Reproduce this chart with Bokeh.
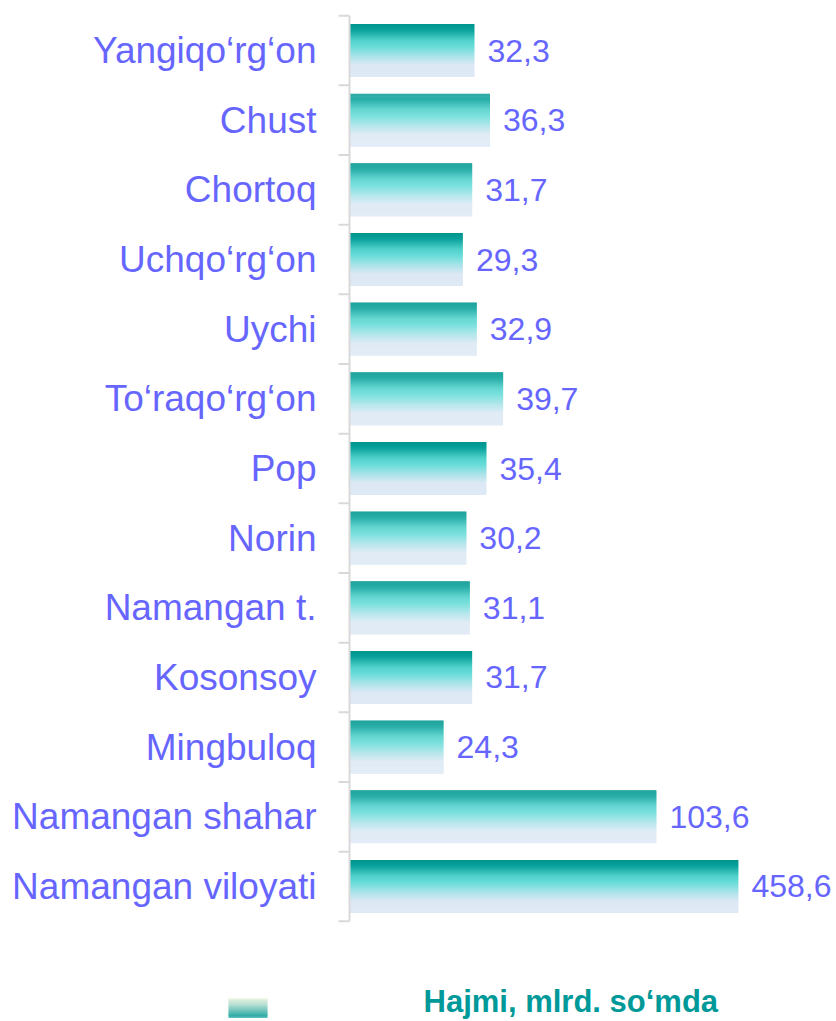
from bokeh.plotting import figure
from bokeh.models import ColumnDataSource, FactorRange, Range1d
from bokeh.transform import dodge
from bokeh.layouts import column
from bokeh.embed import file_html
from bokeh.resources import INLINE
from bokeh.core.properties import value

# ---------------- data ----------------
categories = ["Yangiqo‘rg‘on", "Chust", "Chortoq", "Uchqo‘rg‘on", "Uychi",
              "To‘raqo‘rg‘on", "Pop", "Norin", "Namangan t.", "Kosonsoy",
              "Mingbuloq", "Namangan shahar", "Namangan viloyati"]
values = [32.3, 36.3, 31.7, 29.3, 32.9, 39.7, 35.4, 30.2, 31.1, 31.7, 24.3, 103.6, 458.6]
# bar lengths as drawn in the source picture (the two totals are shown compressed)
bar_lengths = [32.3, 36.3, 31.7, 29.3, 32.9, 39.7, 35.4, 30.2, 31.1, 31.7, 24.3, 79.3, 100.5]
value_labels = [f"{v:.1f}".replace(".", ",") for v in values]
legend_label = "Hajmi, mlrd. so‘mda"

# ---------------- style ----------------
FONT = "Liberation Sans"
LABEL_COLOR = "#6666ff"
AXIS_COLOR = "#d9d9d9"
PX_PER_UNIT = 3.87
BAR_STOPS = [(0.0, "#00968f"), (0.1, "#08a09a"), (0.3, "#50d0cb"), (0.42, "#66dcd8"),
             (0.6, "#a6e3e8"), (0.78, "#dce8f4"), (1.0, "#dee9f5")]
LEG_STOPS = [(0.0, "#e2f0da"), (0.5, "#8fd0c6"), (1.0, "#22a8a3")]


def grad(stops, t):
    for (p0, c0), (p1, c1) in zip(stops, stops[1:]):
        if t <= p1:
            f = (t - p0) / (p1 - p0) if p1 > p0 else 0.0
            a = [int(c0[i:i + 2], 16) for i in (1, 3, 5)]
            b = [int(c1[i:i + 2], 16) for i in (1, 3, 5)]
            return "#%02x%02x%02x" % tuple(round(x + (y - x) * f) for x, y in zip(a, b))
    return stops[-1][1]


W = 836
LEFT = 336
frame_left_px = 13  # gap between frame left and the axis line
x_start = -frame_left_px / PX_PER_UNIT
x_end = x_start + (W - LEFT) / PX_PER_UNIT

p = figure(width=W, height=925,
           y_range=FactorRange(factors=categories[::-1], range_padding=0.06,
                               range_padding_units="absolute"),
           x_range=Range1d(x_start, x_end),
           output_backend="svg", toolbar_location=None, x_axis_location=None,
           min_border_left=LEFT, min_border_right=0, min_border_top=11, min_border_bottom=0,
           outline_line_color=None, background_fill_color="white", border_fill_color="white")
p.frame_align = False
p.grid.visible = False
ax = p.yaxis[0]
ax.axis_line_color = None
ax.major_tick_line_color = None
ax.major_tick_out = 0
ax.major_tick_in = 0
ax.major_label_standoff = 20
ax.major_label_text_font = FONT
ax.major_label_text_font_size = "37px"
ax.major_label_text_color = LABEL_COLOR

src = ColumnDataSource(dict(cat=categories, length=bar_lengths, label=value_labels))

bar_h = 0.76
N = 53
sh = bar_h / N
for k in range(N):
    off = bar_h / 2 - (k + 0.5) * sh
    p.hbar(y=dodge("cat", off, range=p.y_range), left=0, right="length",
           height=sh * 1.15, fill_color=grad(BAR_STOPS, k / (N - 1)), line_color=None,
           source=src)

# axis line and boundary ticks
tick_len = 11 / PX_PER_UNIT
p.segment(x0=-tick_len, x1=0, y0=dodge("cat", 0.5, range=p.y_range),
          y1=dodge("cat", 0.5, range=p.y_range), line_color=AXIS_COLOR, line_width=2,
          source=ColumnDataSource(dict(cat=categories)))
p.segment(x0=-tick_len, x1=0, y0=dodge("cat", -0.5, range=p.y_range),
          y1=dodge("cat", -0.5, range=p.y_range), line_color=AXIS_COLOR, line_width=2,
          source=ColumnDataSource(dict(cat=[categories[-1]])))
p.segment(x0=0, x1=0, y0=dodge("top", 0.5, range=p.y_range),
          y1=dodge("bot", -0.5, range=p.y_range), line_color=AXIS_COLOR, line_width=2,
          source=ColumnDataSource(dict(top=[categories[0]], bot=[categories[-1]])))

p.text(x="length", y="cat", text="label", x_offset=13, text_baseline="middle",
       text_align="left", text_font=value(FONT), text_font_size="32px",
       text_color=LABEL_COLOR, source=src)

# ---------------- legend strip ----------------
LH = 1021 - 925
lf = figure(width=W, height=LH, x_range=Range1d(0, W), y_range=Range1d(0, LH),
            output_backend="svg", toolbar_location=None, x_axis_location=None,
            y_axis_location=None, min_border=0, outline_line_color=None)
lf.frame_align = False
lf.grid.visible = False
M = 20
sw_top, sw_bot, sw_l, sw_r = 23, 4, 228, 267
sw_h = (sw_top - sw_bot) / M
lf.quad(left=[sw_l] * M, right=[sw_r] * M,
        top=[sw_top - i * sw_h for i in range(M)],
        bottom=[sw_top - (i + 1) * sw_h - 0.3 for i in range(M)],
        fill_color=[grad(LEG_STOPS, i / (M - 1)) for i in range(M)], line_color=None)
lf.text(x=[423], y=[20], text=[legend_label], text_baseline="middle", text_align="left",
        text_font=value(FONT), text_font_style="bold", text_font_size="31px",
        text_color="#009999")

layout = column(p, lf, spacing=0)
open("out.html", "w").write(file_html(layout, INLINE))
